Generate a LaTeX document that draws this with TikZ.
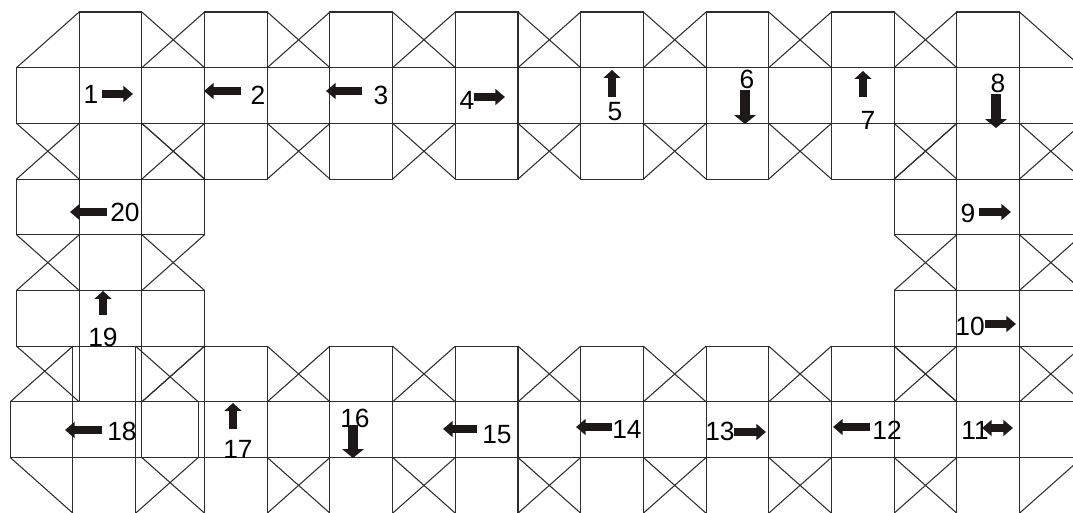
\documentclass[tikz,border=0pt]{standalone}
\usepackage{fontspec}
\setmainfont{Liberation Sans}
\usetikzlibrary{arrows.meta}
\definecolor{boardline}{RGB}{45,45,45}
\definecolor{arrowdark}{RGB}{30,25,25}

\begin{document}
\begin{tikzpicture}[x=0.02cm, y=-0.02cm,
  cell/.style={draw=boardline, line width=0.6pt},
  htip/.tip={Triangle[length=5.5pt, width=9pt]},
  utip/.tip={Triangle[length=4.5pt, width=9.5pt]},
  dtip/.tip={Triangle[length=5pt, width=12pt]},
  hmove/.style={arrowdark, line width=4.2pt, -htip},
  umove/.style={arrowdark, line width=5pt, -utip},
  dmove/.style={arrowdark, line width=6pt, -dtip},
  num/.style={inner sep=0pt, font=\fontsize{15pt}{17pt}\selectfont}]

\useasboundingbox (0,0) rectangle (1073,513);
\clip (0,0) rectangle (1073,513);

% spaces of the board: centre square, four arms, cut corners
\begin{scope}[xshift=0.33cm, yshift=-0.24cm, x=1.254cm, y=-1.114cm]
\foreach \c/\r in {1/1, 3/1, 5/1, 7/1, 9/1, 11/1, 13/1, 15/1,
                   15/3, 15/5, 15/7, 13/7, 11/7, 9/7, 7/7, 5/7, 3/7, 0.9/7,
                   1/5, 1/3} {
  \draw[cell] ({\c-1},\r) rectangle ({\c+2},{\r+1});
  \draw[cell] (\c,{\r-1}) rectangle ({\c+1},{\r+2});
  \draw[cell] (\c,{\r-1}) -- ({\c-1},\r)
              ({\c+1},{\r-1}) -- ({\c+2},\r)
              ({\c-1},{\r+1}) -- (\c,{\r+2})
              ({\c+2},{\r+1}) -- ({\c+1},{\r+2});
}
\end{scope}

% numbers
\node[num] (n1) at (91,94) {1};
\node[num] (n2) at (258,95) {2};
\node[num] (n3) at (381,95) {3};
\node[num] (n4) at (467,100) {4};
\node[num] (n5) at (615,112) {5};
\node[num] (n6) at (747,79) {6};
\node[num] (n7) at (868,120) {7};
\node[num] (n8) at (998,83) {8};
\node[num] (n9) at (968,213) {9};
\node[num] (n10) at (970,326) {10};
\node[num] (n11) at (975,430) {11};
\node[num] (n12) at (887,430) {12};
\node[num] (n13) at (720,431) {13};
\node[num] (n14) at (627,429) {14};
\node[num] (n15) at (497,435) {15};
\node[num] (n16) at (355,418) {16};
\node[num] (n17) at (238,449) {17};
\node[num] (n18) at (122,431) {18};
\node[num] (n19) at (103,337) {19};
\node[num] (n20) at (125,212) {20};

% moves
\draw[hmove] (102,94) -- (133,94);
\draw[hmove] (241,91) -- (204,91);
\draw[hmove] (362,91) -- (326,91);
\draw[hmove] (474,97) -- (505,97);
\draw[umove] (612,97) -- (612,70);
\draw[dmove] (745,90) -- (745,124);
\draw[umove] (863,97) -- (863,71);
\draw[dmove] (996,94) -- (996,128);
\draw[hmove] (979,212) -- (1011,212);
\draw[hmove] (985,324) -- (1016,324);
\draw[hmove, htip-htip] (982,428) -- (1013,428);
\draw[hmove] (870,427) -- (833,427);
\draw[hmove] (734,432) -- (766,432);
\draw[hmove] (612,427) -- (576,427);
\draw[hmove] (477,429) -- (443,429);
\draw[dmove] (353,425) -- (353,458);
\draw[umove] (233,429) -- (233,403);
\draw[hmove] (102,430) -- (65,430);
\draw[umove] (103,315) -- (103,291);
\draw[hmove] (107,212) -- (70,212);
\end{tikzpicture}
\end{document}
